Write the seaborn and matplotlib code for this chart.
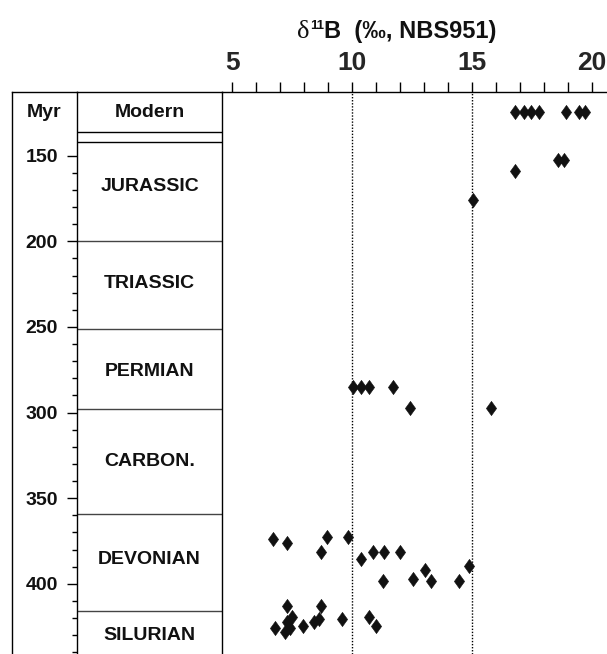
import numpy as np
import pandas as pd
import seaborn as sns
import matplotlib
matplotlib.use("Agg")
import matplotlib.pyplot as plt
from matplotlib.path import Path
from matplotlib.markers import MarkerStyle
from matplotlib.ticker import FixedLocator

# ---------------- data ----------------
modern_d11B = [16.78, 17.15, 17.48, 17.79, 18.93, 19.46, 19.70]
modern_row_age = 124.5   # plotting position of the "Modern" row

fossil_age = [152.5, 152.5, 158.9, 175.9,
              285.3, 285.3, 285.3, 285.3, 297.2, 297.2,
              374.1, 376.4, 372.5, 372.5, 381.7, 385.6, 381.7, 381.7, 381.7,
              389.5, 392.1, 397.3, 398.5, 398.5, 398.5,
              412.9, 412.9, 419.3, 422.2, 426.1, 428.0, 426.1, 424.5, 422.2,
              420.6, 420.6, 419.6, 424.5]
fossil_d11B = [18.57, 18.85, 16.78, 15.02,
               10.04, 10.35, 10.71, 11.71, 12.40, 15.81,
               6.68, 7.27, 8.96, 9.81, 8.68, 10.36, 10.85, 11.33, 11.99,
               14.88, 13.04, 12.54, 13.27, 11.27, 14.46,
               7.27, 8.68, 7.48, 7.27, 6.78, 7.19, 7.40, 7.96, 8.40,
               8.61, 9.58, 10.71, 10.99]

period_names = ["JURASSIC", "TRIASSIC", "PERMIAN", "CARBON.", "DEVONIAN", "SILURIAN"]
period_label_age = [168.1, 224.4, 276.2, 328.7, 385.6, 430.4]
period_bounds = [199.6, 251.0, 298.0, 359.0, 416.0]
modern_lines = [136.0, 142.2]

x_major = [5, 10, 15, 20]
age_major = [150, 200, 250, 300, 350, 400]

# ---------------- figure ----------------
W, H = 607, 654
sns.set_style("white")
plt.rcParams['font.family'] = ['Liberation Sans', 'DejaVu Sans']
plt.rcParams['font.weight'] = 'bold'

fig = plt.figure(figsize=(W / 100, H / 100), dpi=100)

def fx(px):
    return px / W

top_px = 91.7
axes_h = (H - top_px) / H
ylim = (441.0, 112.6)
lw = 1.0

# Myr column (drawn first, transparent background)
axm = fig.add_axes([fx(12), 0, fx(77 - 12), axes_h])
axm.patch.set_visible(False)
# geologic column
axg = fig.add_axes([fx(77), 0, fx(222.3 - 77), axes_h])
axg.patch.set_visible(False)
# data axes
ax = fig.add_axes([fx(222.3), 0, fx(W - 222.3), axes_h])
ax.patch.set_visible(False)

df = pd.DataFrame({
    "d11B": modern_d11B + fossil_d11B,
    "age": [modern_row_age] * len(modern_d11B) + fossil_age,
})
diamond = MarkerStyle(Path([(0, 1), (0.72, 0), (0, -1), (-0.72, 0), (0, 1)],
                           [Path.MOVETO, Path.LINETO, Path.LINETO, Path.LINETO, Path.CLOSEPOLY]))
sns.scatterplot(data=df, x="d11B", y="age", marker=diamond, color="#111111",
                s=105, edgecolor="#111111", linewidth=0.4, ax=ax, legend=False, zorder=3)

for v in [10, 15]:
    ax.axvline(v, color="black", lw=1.0, ls=(0, (1, 1.2)), zorder=1)

ax.set_xlim(4.583, 20.63)
ax.set_ylim(*ylim)
ax.set_xlabel("")
ax.set_ylabel("")
ax.xaxis.tick_top()
ax.xaxis.set_major_locator(FixedLocator(x_major))
ax.xaxis.set_minor_locator(FixedLocator([v for v in range(5, 21) if v not in x_major]))
ax.tick_params(axis="x", which="both", direction="out", length=7.2, width=lw,
               color="black", top=True, bottom=False)
ax.tick_params(axis="x", which="major", labelsize=19, pad=5, labeltop=True, labelbottom=False)
for t in ax.get_xticklabels():
    t.set_fontweight("bold")
ax.set_yticks([])
for s in ["right", "bottom"]:
    ax.spines[s].set_visible(False)
for s in ["top", "left"]:
    ax.spines[s].set_linewidth(lw)
    ax.spines[s].set_color("black")

# geologic column
axg.set_xlim(0, 1)
axg.set_ylim(*ylim)
axg.set_xticks([])
axg.yaxis.set_major_locator(FixedLocator(age_major))
axg.yaxis.set_minor_locator(FixedLocator([a for a in range(160, 441, 10) if a not in age_major]))
axg.tick_params(axis="y", which="major", direction="out", length=7.2, width=lw,
                color="black", left=True, labelleft=True, labelsize=14, pad=6.5)
axg.tick_params(axis="y", which="minor", direction="out", length=3.6, width=lw,
                color="black", left=True)
axg.set_yticklabels([str(a) for a in age_major], fontweight="bold", color="#111111")
for s in ["bottom", "right"]:
    axg.spines[s].set_visible(False)
for s in ["top", "left"]:
    axg.spines[s].set_linewidth(lw)
    axg.spines[s].set_color("black")
for b in modern_lines:
    axg.axhline(b, color="black", lw=lw)
for b in period_bounds:
    axg.axhline(b, color="#444444", lw=lw)
axg.text(0.5, modern_row_age, "Modern", ha="center", va="center",
         fontsize=14, fontweight="bold", color="#111111")
for name, a in zip(period_names, period_label_age):
    axg.text(0.5, a, name, ha="center", va="center", fontsize=14,
             fontweight="bold", color="#111111")

# Myr column
axm.set_xlim(0, 1)
axm.set_ylim(*ylim)
axm.set_xticks([])
axm.set_yticks([])
for s in ["bottom", "right"]:
    axm.spines[s].set_visible(False)
for s in ["top", "left"]:
    axm.spines[s].set_linewidth(lw)
    axm.spines[s].set_color("black")
axm.text(0.5, modern_row_age, "Myr", ha="center", va="center",
         fontsize=14, fontweight="bold", color="#111111")

# title pieces: δ¹¹B  (‰, NBS951)
renderer = fig.canvas.get_renderer()
base_y = 1 - 38.3 / H
x0 = 297.0
t1 = fig.text(fx(x0), base_y, "δ", fontfamily=["Liberation Serif", "DejaVu Serif"],
              fontweight="normal", fontsize=19, va="baseline", ha="left", color="#111111")
w1 = t1.get_window_extent(renderer).width
t2 = fig.text(fx(x0 + w1 + 0.5), base_y + 9.0 / H, "11", fontsize=9.5,
              fontweight="bold", va="baseline", ha="left", color="#111111")
w2 = t2.get_window_extent(renderer).width
fig.text(fx(x0 + w1 + w2 + 1.0), base_y, "B  (‰, NBS951)", fontsize=17,
         fontweight="bold", va="baseline", ha="left", color="#111111")

fig.savefig("out.png", dpi=100)
